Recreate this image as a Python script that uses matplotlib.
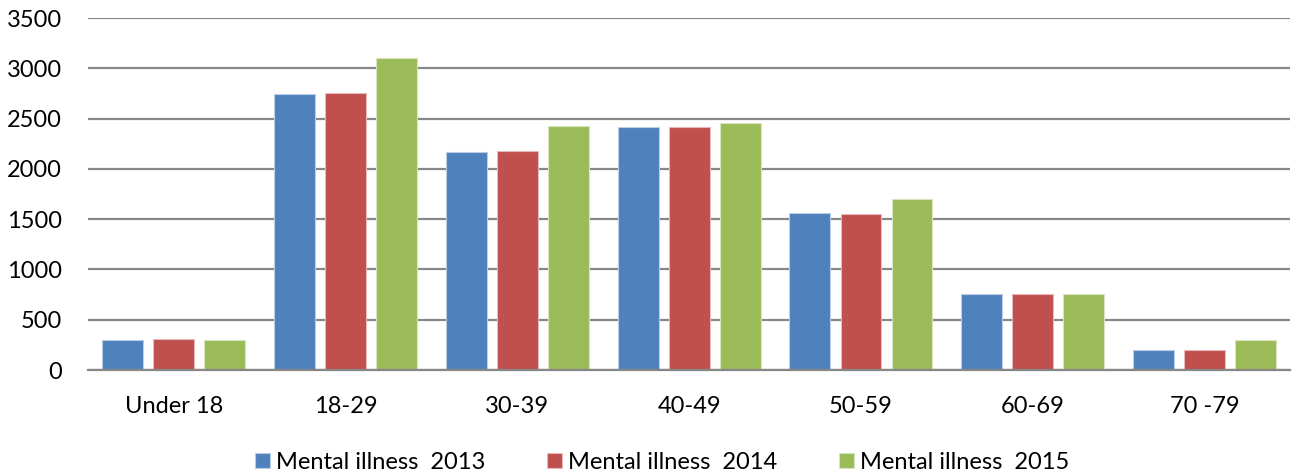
import numpy as np
import matplotlib.pyplot as plt

plt.rcParams['font.family'] = ['Lato', 'DejaVu Sans']

categories = ['Under 18', '18-29', '30-39', '40-49', '50-59', '60-69', '70 -79']
series_names = ['Mental illness  2013', 'Mental illness  2014', 'Mental illness  2015']
ill_2013 = [300, 2740, 2170, 2420, 1560, 760, 195]
ill_2014 = [305, 2755, 2175, 2415, 1550, 755, 195]
ill_2015 = [300, 3100, 2425, 2455, 1705, 755, 295]
yticks = [0, 500, 1000, 1500, 2000, 2500, 3000, 3500]

colors = ['#4F81BD', '#C0504D', '#9BBB59']
edges = ['#B9CDE5', '#E6B9B8', '#D7E4BD']

fig = plt.figure(figsize=(12.93, 4.75), dpi=100)
ax = fig.add_axes([0.068, 0.221, 0.930, 0.741])

x = np.arange(len(categories))
width = 0.238
offsets = [-0.297, 0, 0.297]
for vals, name, c, e, off in zip([ill_2013, ill_2014, ill_2015], series_names, colors, edges, offsets):
    ax.bar(x + off, vals, width, color=c, edgecolor=e, linewidth=0.8, label=name, zorder=3)

ax.set_xlim(-0.5, len(categories) - 0.5)
ax.set_ylim(0, 3500)
ax.set_yticks(yticks)
ax.set_xticks(x)
ax.set_xticklabels(categories)
ax.tick_params(axis='both', length=0, labelsize=17, colors='black')
ax.tick_params(axis='x', pad=19)
ax.tick_params(axis='y', pad=18.5)
ax.yaxis.grid(True, color='#878787', linewidth=1.6, zorder=0)

for s in ['top', 'right', 'left']:
    ax.spines[s].set_visible(False)
ax.spines['bottom'].set_color('#878787')
ax.spines['bottom'].set_linewidth(1.6)
ax.spines['bottom'].set_zorder(4)

fig.legend(loc='center', bbox_to_anchor=(0.512, 0.027), ncol=3, frameon=False,
           fontsize=17, handlelength=0.65, handleheight=0.65, handletextpad=0.25,
           columnspacing=2.6)

plt.savefig('out.png', dpi=100)
